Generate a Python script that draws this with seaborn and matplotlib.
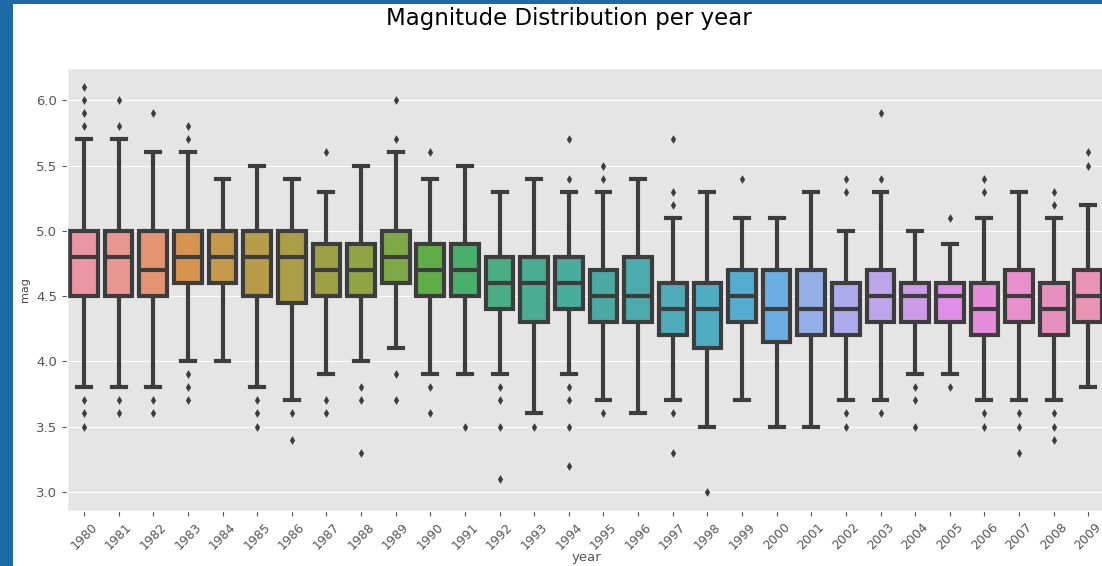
import matplotlib
matplotlib.use("Agg")
import matplotlib.pyplot as plt
from matplotlib.patches import Rectangle
import numpy as np
import pandas as pd
import seaborn as sns

# Yearly earthquake magnitude summaries (quartiles, whisker ends, outliers)
years = ["1980", "1981", "1982", "1983", "1984", "1985", "1986", "1987", "1988", "1989",
         "1990", "1991", "1992", "1993", "1994", "1995", "1996", "1997", "1998", "1999",
         "2000", "2001", "2002", "2003", "2004", "2005", "2006", "2007", "2008", "2009"]

q1 = [4.5, 4.5, 4.5, 4.6, 4.6, 4.5, 4.45, 4.5, 4.5, 4.6,
      4.5, 4.5, 4.4, 4.3, 4.4, 4.3, 4.3, 4.2, 4.1, 4.3,
      4.15, 4.2, 4.2, 4.3, 4.3, 4.3, 4.2, 4.3, 4.2, 4.3]
median = [4.8, 4.8, 4.7, 4.8, 4.8, 4.8, 4.8, 4.7, 4.7, 4.8,
          4.7, 4.7, 4.6, 4.6, 4.6, 4.5, 4.5, 4.4, 4.4, 4.5,
          4.4, 4.4, 4.4, 4.5, 4.5, 4.5, 4.4, 4.5, 4.4, 4.5]
q3 = [5.0, 5.0, 5.0, 5.0, 5.0, 5.0, 5.0, 4.9, 4.9, 5.0,
      4.9, 4.9, 4.8, 4.8, 4.8, 4.7, 4.8, 4.6, 4.6, 4.7,
      4.7, 4.7, 4.6, 4.7, 4.6, 4.6, 4.6, 4.7, 4.6, 4.7]
whisker_low = [3.8, 3.8, 3.8, 4.0, 4.0, 3.8, 3.7, 3.9, 4.0, 4.1,
               3.9, 3.9, 3.9, 3.6, 3.9, 3.7, 3.6, 3.7, 3.5, 3.7,
               3.5, 3.5, 3.7, 3.7, 3.9, 3.9, 3.7, 3.7, 3.7, 3.8]
whisker_high = [5.7, 5.7, 5.6, 5.6, 5.4, 5.5, 5.4, 5.3, 5.5, 5.6,
                5.4, 5.5, 5.3, 5.4, 5.3, 5.3, 5.4, 5.1, 5.3, 5.1,
                5.1, 5.3, 5.0, 5.3, 5.0, 4.9, 5.1, 5.3, 5.1, 5.2]
outliers = [
    [3.5, 3.6, 3.7, 5.8, 5.9, 6.0, 6.1],
    [3.6, 3.7, 5.8, 6.0],
    [3.6, 3.7, 5.9],
    [3.7, 3.8, 3.9, 5.7, 5.8],
    [],
    [3.5, 3.6, 3.7],
    [3.4, 3.6],
    [3.6, 3.7, 5.6],
    [3.3, 3.7, 3.8],
    [3.7, 3.9, 5.7, 6.0],
    [3.6, 3.8, 5.6],
    [3.5],
    [3.1, 3.5, 3.7, 3.8],
    [3.5],
    [3.2, 3.5, 3.7, 3.8, 5.4, 5.7],
    [3.6, 5.4, 5.5],
    [],
    [3.3, 3.6, 5.2, 5.3, 5.7],
    [3.0],
    [5.4],
    [],
    [],
    [3.5, 3.6, 5.3, 5.4],
    [3.6, 5.4, 5.9],
    [3.5, 3.7, 3.8],
    [3.8, 5.1],
    [3.5, 3.6, 5.3, 5.4],
    [3.3, 3.5, 3.6],
    [3.4, 3.5, 3.6, 5.2, 5.3],
    [5.5, 5.6],
]

# Expand each summary into a sample whose quartiles and extremes reproduce it
REPEAT = 20
core_rows = []
for yr, lo, a, m, b, hi in zip(years, whisker_low, q1, median, q3, whisker_high):
    vals = [lo] + [a] * REPEAT + [m] * REPEAT + [b] * REPEAT + [hi]
    core_rows += [(yr, v) for v in vals]
core = pd.DataFrame(core_rows, columns=["year", "mag"])
flier_df = pd.DataFrame([(yr, v) for yr, vs in zip(years, outliers) for v in vs],
                        columns=["year", "mag"])

plt.style.use("ggplot")
plt.rcParams["font.family"] = ["DejaVu Sans"]

fig = plt.figure(figsize=(11.02, 5.66), dpi=100)
fig.patch.set_facecolor("white")

# Window frame
frame_color = "#1d6aa6"
fig.add_artist(Rectangle((0, 0), 13 / 1102, 1, transform=fig.transFigure,
                         facecolor=frame_color, edgecolor="none", zorder=10))
fig.add_artist(Rectangle((0, 1 - 3.5 / 566), 1, 3.5 / 566, transform=fig.transFigure,
                         facecolor=frame_color, edgecolor="none", zorder=10))

ax = fig.add_axes([66.7 / 1102, 1 - 510.7 / 566, (1105.6 - 66.7) / 1102, (510.7 - 68.3) / 566])

line_color = "#3d3d3d"
sns.boxplot(data=core, x="year", y="mag", hue="year", order=years, hue_order=years,
            palette=sns.husl_palette(len(years), l=0.7), saturation=0.75,
            width=0.8, whis=(0, 100), showfliers=False, linewidth=3,
            linecolor=line_color, legend=False, ax=ax)
sns.stripplot(data=flier_df, x="year", y="mag", order=years, jitter=False,
              color=line_color, marker="d", size=4.5, linewidth=0, ax=ax, zorder=5)

ax.set_ylim(2.855, 6.245)
ax.set_yticks([3.0, 3.5, 4.0, 4.5, 5.0, 5.5, 6.0])
ax.tick_params(axis="x", rotation=45, labelsize=9, colors="#555555")
ax.tick_params(axis="y", labelsize=9.5, colors="#555555")
ax.xaxis.grid(False)
ax.set_xlabel("year", fontsize=9.5, color="#555555", labelpad=-1)
ax.set_ylabel("mag", fontsize=8, color="#444444")

fig.text(569 / 1102, 1 - 25 / 566, "Magnitude Distribution per year",
         ha="center", va="baseline", fontsize=16.5, color="black")

fig.savefig("out.png", dpi=100)
